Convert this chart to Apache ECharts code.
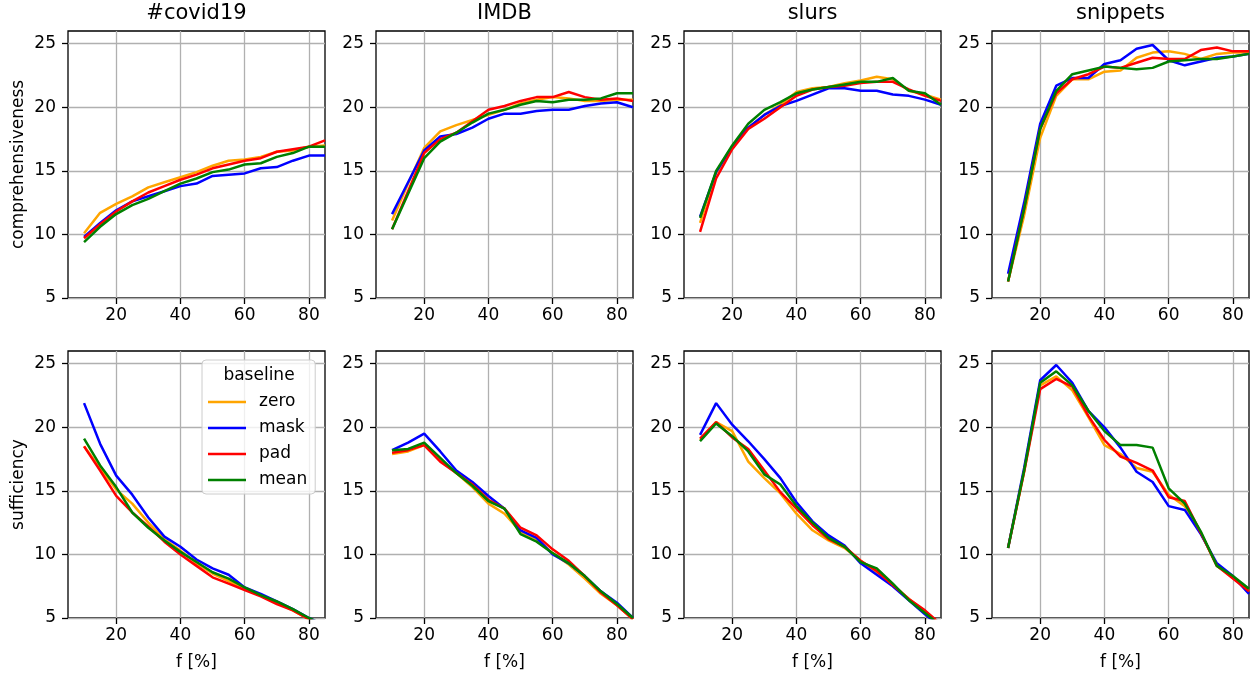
<!DOCTYPE html>
<html><head><meta charset="utf-8">
<script src="https://cdn.jsdelivr.net/npm/echarts@6/dist/echarts.min.js"></script>
<style>html,body{margin:0;padding:0;background:#fff}#c{width:1260px;height:677px}</style>
</head><body><div id="c"></div>
<script>
const fPercent = [10,15,20,25,30,35,40,45,50,55,60,65,70,75,80,85];
const baselines = ['zero','mask','pad','mean'];
const baselineColors = ['#ffa500','#0000ff','#ff0000','#008000'];
const datasetNames = ['#covid19','IMDB','slurs','snippets'];
const metricNames = ['comprehensiveness','sufficiency'];
const xTicks = [20,40,60,80];
const yTicks = [5,10,15,20,25];

// rows: zero, mask, pad, mean
const covidComp = [
  [10.1,11.7,12.4,13.0,13.7,14.1,14.5,14.9,15.4,15.8,15.9,16.1,16.5,16.6,16.9,17.0],
  [9.8,10.9,11.9,12.6,13.0,13.4,13.8,14.0,14.6,14.7,14.8,15.2,15.3,15.8,16.2,16.2],
  [9.7,10.8,11.8,12.6,13.3,13.8,14.3,14.7,15.2,15.5,15.8,16.0,16.5,16.7,16.9,17.4],
  [9.4,10.6,11.6,12.3,12.8,13.4,14.0,14.4,14.9,15.1,15.5,15.6,16.1,16.4,16.9,16.9]
];
const imdbComp = [
  [11.1,14.0,16.8,18.1,18.6,19.0,19.4,19.8,20.3,20.6,20.8,20.7,20.5,20.5,20.6,20.6],
  [11.6,14.1,16.6,17.7,17.9,18.4,19.1,19.5,19.5,19.7,19.8,19.8,20.1,20.3,20.4,20.0],
  [10.4,13.4,16.4,17.5,18.0,18.9,19.8,20.1,20.5,20.8,20.8,21.2,20.8,20.6,20.7,20.5],
  [10.4,13.2,16.0,17.3,18.0,18.8,19.5,19.8,20.2,20.5,20.4,20.6,20.6,20.7,21.1,21.1]
];
const slursComp = [
  [10.9,14.8,16.9,18.4,19.4,20.2,21.2,21.5,21.6,21.9,22.1,22.4,22.2,21.3,21.0,20.6],
  [11.4,14.9,16.9,18.4,19.4,20.1,20.5,21.0,21.5,21.5,21.3,21.3,21.0,20.9,20.6,20.2],
  [10.2,14.4,16.7,18.3,19.1,20.0,20.9,21.4,21.6,21.7,21.9,22.0,22.0,21.4,20.9,20.5],
  [11.3,15.0,17.0,18.7,19.8,20.4,21.1,21.4,21.6,21.8,22.0,22.0,22.3,21.3,21.1,20.2]
];
const snippetsComp = [
  [6.3,11.5,17.6,20.9,22.2,22.2,22.8,22.9,23.9,24.3,24.4,24.2,23.8,24.2,24.3,24.3],
  [6.9,12.5,18.7,21.7,22.3,22.3,23.4,23.7,24.6,24.9,23.7,23.3,23.6,23.9,24.0,24.2],
  [6.3,12.0,18.3,21.1,22.2,22.6,23.2,23.1,23.5,23.9,23.8,23.8,24.5,24.7,24.4,24.4],
  [6.3,12.0,18.3,21.3,22.6,22.9,23.2,23.1,23.0,23.1,23.6,23.7,23.8,23.8,24.0,24.2]
];
const covidSuff = [
  [18.5,16.8,15.1,14.0,12.5,11.2,10.3,9.3,8.5,7.9,7.3,6.8,6.2,5.6,4.9,4.3],
  [21.9,18.7,16.2,14.7,12.9,11.4,10.6,9.6,8.9,8.4,7.4,6.9,6.3,5.7,5.0,4.4],
  [18.5,16.6,14.6,13.3,12.2,11.0,10.0,9.1,8.2,7.7,7.2,6.7,6.1,5.6,4.9,4.3],
  [19.1,17.0,15.3,13.3,12.1,11.1,10.2,9.4,8.6,8.1,7.4,6.8,6.3,5.7,5.0,4.4]
];
const imdbSuff = [
  [17.9,18.1,18.6,17.4,16.4,15.3,14.0,13.2,11.8,11.2,10.1,9.2,8.1,6.9,6.0,4.9],
  [18.2,18.8,19.5,18.1,16.6,15.7,14.6,13.6,11.9,11.3,10.0,9.3,8.3,7.1,6.2,5.0],
  [18.0,18.2,18.6,17.3,16.4,15.5,14.3,13.6,12.1,11.5,10.4,9.5,8.3,7.0,6.0,4.9],
  [18.2,18.3,18.8,17.6,16.4,15.4,14.2,13.6,11.6,11.0,10.1,9.3,8.3,7.1,6.1,5.0]
];
const slursSuff = [
  [19.0,20.4,19.7,17.3,16.0,14.8,13.2,11.9,11.1,10.5,9.5,8.6,7.6,6.5,5.5,4.4],
  [19.4,21.9,20.2,18.9,17.5,16.0,14.1,12.6,11.5,10.7,9.3,8.4,7.5,6.4,5.3,4.3],
  [19.1,20.4,19.2,18.3,16.6,14.9,13.6,12.3,11.2,10.6,9.5,8.7,7.6,6.5,5.6,4.5],
  [18.9,20.3,19.3,18.1,16.3,15.5,13.8,12.5,11.3,10.6,9.4,8.9,7.7,6.4,5.4,4.4]
];
const snippetsSuff = [
  [10.5,16.5,23.3,24.0,22.9,20.8,18.6,17.9,16.8,16.5,14.7,13.8,11.7,9.1,8.2,7.1],
  [10.5,16.8,23.7,24.9,23.5,21.3,20.0,18.4,16.5,15.7,13.8,13.5,11.6,9.3,8.3,6.9],
  [10.5,16.5,23.0,23.8,23.2,20.9,19.0,17.7,17.2,16.6,14.5,14.2,11.7,9.1,8.1,7.1],
  [10.5,16.6,23.5,24.4,23.3,21.3,19.7,18.6,18.6,18.4,15.2,14.0,11.8,9.1,8.3,7.3]
];

const panels = [
  [covidComp, imdbComp, slursComp, snippetsComp],
  [covidSuff, imdbSuff, slursSuff, snippetsSuff]
];

const FONT = 'DejaVu Sans';
const FS = 17;
const LEFTS = [68, 376, 684, 992];
const TOPS = [31, 351];
const W = 257, H = 267;

const grids = [], xAxes = [], yAxes = [], series = [], graphics = [];
let idx = 0;
for (let r = 0; r < 2; r++) {
  for (let c = 0; c < 4; c++) {
    grids.push({left: LEFTS[c], top: TOPS[r], width: W, height: H, show: true,
      borderColor: '#000', borderWidth: 1.3, backgroundColor: 'transparent', containLabel: false});
    xAxes.push({
      gridIndex: idx, type: 'value', min: 5, max: 85,
      axisLine: {show: false},
      axisTick: {show: true, customValues: xTicks, length: 6, lineStyle: {color: '#000', width: 1.3}},
      axisLabel: {customValues: xTicks, fontSize: FS, color: '#000', margin: 9, fontFamily: FONT},
      splitLine: {show: true, lineStyle: {color: '#b0b0b0', width: 1.3}},
      name: r === 1 ? 'f [%]' : '', nameLocation: 'middle', nameGap: 36,
      nameTextStyle: {fontSize: FS, color: '#000', fontFamily: FONT}
    });
    yAxes.push({
      gridIndex: idx, type: 'value', min: 5, max: 26,
      axisLine: {show: false},
      axisTick: {show: true, customValues: yTicks, length: 6, lineStyle: {color: '#000', width: 1.3}},
      axisLabel: {customValues: yTicks, fontSize: FS, color: '#000', margin: 12, fontFamily: FONT},
      splitLine: {show: true, lineStyle: {color: '#b0b0b0', width: 1.3}},
      name: c === 0 ? metricNames[r] : '', nameLocation: 'middle', nameGap: 41,
      nameTextStyle: {fontSize: FS, color: '#000', fontFamily: FONT}
    });
    const p = panels[r][c];
    for (let b = 0; b < 4; b++) {
      series.push({
        type: 'line', name: baselines[b], xAxisIndex: idx, yAxisIndex: idx,
        data: fPercent.map((f, k) => [f, p[b][k]]),
        showSymbol: false, symbol: 'none', clip: true, z: 2 + b,
        lineStyle: {width: 2.5, color: baselineColors[b]},
        itemStyle: {color: baselineColors[b]}
      });
    }
    idx++;
  }
}
for (let c = 0; c < 4; c++) {
  graphics.push({type: 'text', z: 100, style: {text: datasetNames[c], x: LEFTS[c] + W / 2, y: 14,
    align: 'center', verticalAlign: 'middle', fontSize: 21, fontFamily: FONT, fill: '#000'}});
}
graphics.push({type: 'text', z: 100, style: {text: 'baseline', x: 259, y: 376,
  align: 'center', verticalAlign: 'middle', fontSize: FS, fontFamily: FONT, fill: '#000'}});

const chart = echarts.init(document.getElementById('c'), null, {renderer: 'canvas'});
chart.setOption({
  animation: false,
  backgroundColor: '#fff',
  grid: grids, xAxis: xAxes, yAxis: yAxes, series: series,
  legend: {
    data: baselines.map(n => ({name: n, icon: 'rect'})),
    orient: 'vertical', left: 202, top: 360,
    itemWidth: 38, itemHeight: 2.5, itemGap: 8,
    padding: [33, 8, 5, 6],
    backgroundColor: 'rgba(255,255,255,0.8)', borderColor: '#cccccc', borderWidth: 1, borderRadius: 4,
    selectedMode: false,
    textStyle: {fontSize: FS, lineHeight: 18, color: '#000', fontFamily: FONT, padding: [0, 0, 0, 8]}
  },
  graphic: graphics
});
</script>
</body></html>
